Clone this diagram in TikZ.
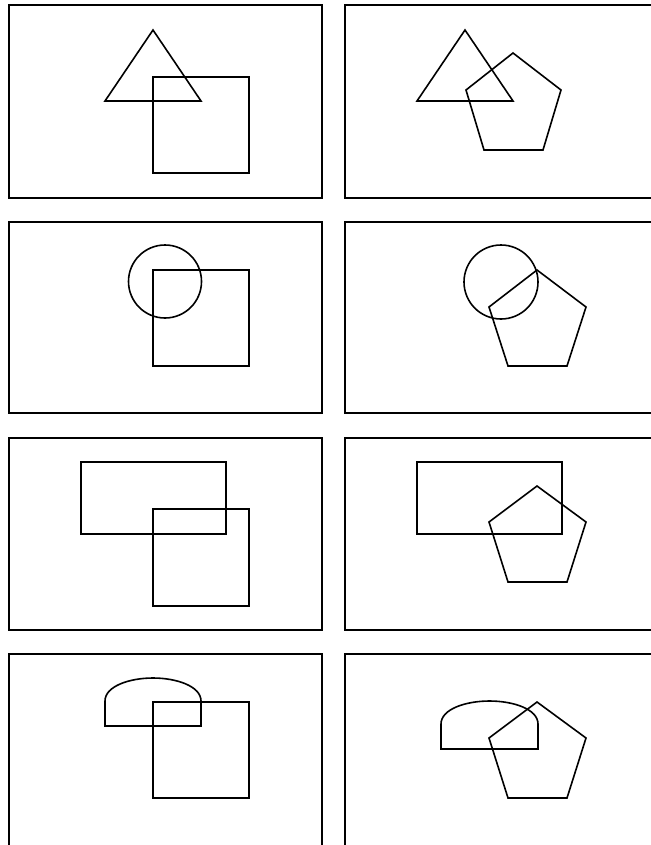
\documentclass[tikz,border=0pt]{standalone}
\begin{document}
\begin{tikzpicture}[x=1pt,y=-1pt,
  framebox/.style={draw=black,line width=1.8pt},
  figline/.style={draw=black,line width=1.6pt,line join=miter}]
\useasboundingbox (0,0) rectangle (650,845);
\fill[white] (0,0) rectangle (650,845);
% frames
\draw[framebox] (9,5) rectangle (322,198);
\draw[framebox] (660,5) -- (345,5) -- (345,198) -- (660,198);
\draw[framebox] (9,222) rectangle (322,413);
\draw[framebox] (660,222) -- (345,222) -- (345,413) -- (660,413);
\draw[framebox] (9,438) rectangle (322,630);
\draw[framebox] (660,438) -- (345,438) -- (345,630) -- (660,630);
\draw[framebox] (9,860) -- (9,654) -- (322,654) -- (322,860);
\draw[framebox] (660,654) -- (345,654) -- (345,860);
% row 1
\draw[figline] (153,30) -- (201,101) -- (105,101) -- cycle;
\draw[figline] (153,77) rectangle (249,173);
\draw[figline] (465,30) -- (513,101) -- (417,101) -- cycle;
\draw[figline] (513,53) -- (561,90) -- (543,150) -- (484,150) -- (466,90) -- cycle;
% row 2
\draw[figline] (165,281.5) circle (36.5);
\draw[figline] (153,270) rectangle (249,366);
\draw[figline] (501,282) circle (37);
\draw[figline] (537,270) -- (586,307) -- (567,366) -- (508,366) -- (489,307) -- cycle;
% row 3
\draw[figline] (81,462) rectangle (226,534);
\draw[figline] (153,509) rectangle (249,606);
\draw[figline] (417,462) rectangle (562,534);
\draw[figline] (537,486) -- (586,522) -- (567,582) -- (508,582) -- (489,522) -- cycle;
% row 4
\draw[figline] (105,726) -- (105,701) .. controls (105,686) and (130,678) .. (153,678)
  .. controls (176,678) and (201,686) .. (201,701) -- (201,726) -- cycle;
\draw[figline] (153,702) rectangle (249,798);
\draw[figline] (441,749) -- (441,724) .. controls (441,709) and (466,701) .. (489.5,701)
  .. controls (513,701) and (538,709) .. (538,724) -- (538,749) -- cycle;
\draw[figline] (537,702) -- (586,738) -- (567,798) -- (508,798) -- (489,738) -- cycle;
\end{tikzpicture}
\end{document}
